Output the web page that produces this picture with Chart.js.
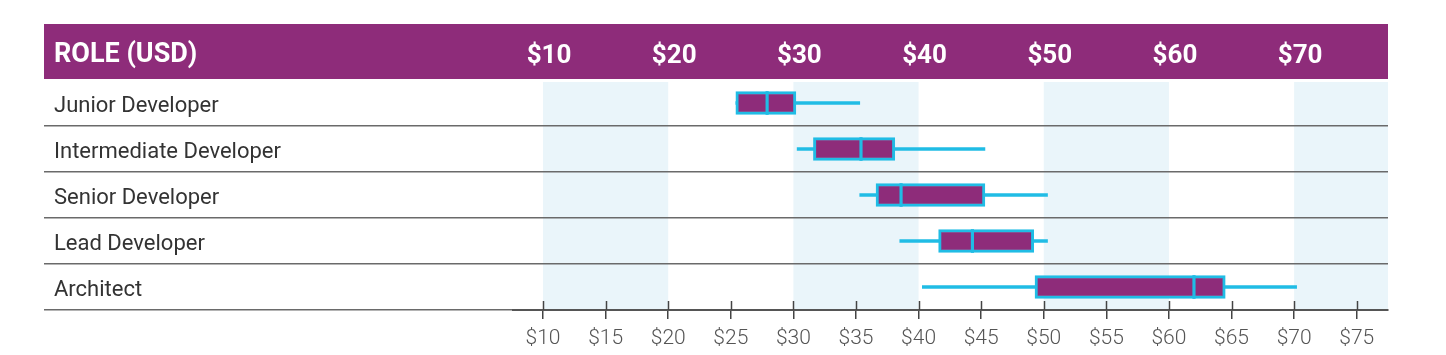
<!DOCTYPE html>
<html>
<head>
<meta charset="utf-8">
<script src="https://cdn.jsdelivr.net/npm/chart.js@4/dist/chart.umd.min.js"></script>
<style>
  html, body { margin: 0; padding: 0; background: #ffffff; }
  #wrap { width: 1446px; height: 355px; position: relative; }
</style>
</head>
<body>
<div id="wrap"><canvas id="c" width="1446" height="355"></canvas></div>
<script>
// ---- data ----
const headerTitle = "ROLE (USD)";
const roles = ["Junior Developer", "Intermediate Developer", "Senior Developer", "Lead Developer", "Architect"];
const mins    = [25.4, 30.3, 35.3, 38.5, 40.3];
const q1s     = [25.4, 31.6, 36.6, 41.6, 49.3];
const medians = [27.9, 35.4, 38.6, 44.3, 62.0];
const q3s     = [30.2, 38.1, 45.3, 49.2, 64.5];
const maxs    = [35.3, 45.3, 50.3, 50.3, 70.2];
const headerTickValues = [10, 20, 30, 40, 50, 60, 70];
const headerTickLabels = ["$10", "$20", "$30", "$40", "$50", "$60", "$70"];
const bottomTickValues = [10, 15, 20, 25, 30, 35, 40, 45, 50, 55, 60, 65, 70, 75];
const bottomTickLabels = ["$10", "$15", "$20", "$25", "$30", "$35", "$40", "$45", "$50", "$55", "$60", "$65", "$70", "$75"];
const bandStarts = [10, 30, 50, 70];
const bandEnds   = [20, 40, 60, 77.5];
const axisMin = 7.6, axisMax = 77.5;

// ---- styles ----
const PURPLE = '#8E2C7A';
const CYAN = '#20BCE5';
const BAND = '#EAF5FA';
const MEDIAN_HALF = 0.1;

const decoPlugin = {
  id: 'deco',
  beforeDraw(chart) {
    const { ctx, chartArea: a, scales } = chart;
    const x = scales.x, top = scales.xTop;
    ctx.save();
    ctx.fillStyle = BAND;
    bandStarts.forEach((s, i) => {
      const x1 = x.getPixelForValue(s);
      const x2 = x.getPixelForValue(Math.min(bandEnds[i], x.max));
      ctx.fillRect(x1, a.top + 2, x2 - x1, a.bottom - a.top - 2);
    });
    ctx.fillStyle = PURPLE;
    ctx.fillRect(44, top.top, a.right - 44, top.bottom - top.top - 1);
    ctx.fillStyle = '#ffffff';
    ctx.font = 'bold 27px Roboto';
    ctx.textBaseline = 'middle';
    ctx.textAlign = 'left';
    ctx.fillText(headerTitle, 54, (top.top + top.bottom) / 2 + 3);
    ctx.restore();
  },
  afterDraw(chart) {
    const { ctx, chartArea: a, scales } = chart;
    const x = scales.x;
    ctx.save();
    ctx.strokeStyle = '#444';
    ctx.lineWidth = 1.5;
    bottomTickValues.forEach(v => {
      const px = Math.round(x.getPixelForValue(v)) + 0.5;
      ctx.beginPath();
      ctx.moveTo(px, a.bottom - 9);
      ctx.lineTo(px, a.bottom);
      ctx.stroke();
    });
    ctx.restore();
  }
};

new Chart(document.getElementById('c'), {
  type: 'bar',
  data: {
    labels: roles,
    datasets: [
      {
        label: 'median',
        data: medians.map(m => [m - MEDIAN_HALF, m + MEDIAN_HALF]),
        backgroundColor: CYAN,
        borderWidth: 0,
        barThickness: 23,
        grouped: false
      },
      {
        label: 'box',
        data: q1s.map((q, i) => [q, q3s[i]]),
        backgroundColor: PURPLE,
        borderColor: CYAN,
        borderWidth: 3,
        borderSkipped: false,
        barThickness: 23,
        grouped: false
      },
      {
        label: 'whisker',
        data: mins.map((m, i) => [m, maxs[i]]),
        backgroundColor: CYAN,
        borderWidth: 0,
        barThickness: 3,
        grouped: false
      }
    ]
  },
  options: {
    indexAxis: 'y',
    responsive: false,
    animation: false,
    devicePixelRatio: 1,
    layout: { padding: { left: 54, right: 58, top: 24, bottom: 0 } },
    plugins: { legend: { display: false }, tooltip: { enabled: false } },
    scales: {
      x: {
        type: 'linear',
        position: 'bottom',
        min: axisMin,
        max: axisMax,
        afterBuildTicks: s => { s.ticks = bottomTickValues.map(v => ({ value: v })); },
        afterFit: s => { s.height = 45; },
        grid: { drawOnChartArea: false, tickLength: 9, color: '#444', lineWidth: 1.5 },
        border: { display: true, color: '#555', width: 2 },
        ticks: {
          padding: 7,
          color: '#555',
          font: { family: 'Roboto', size: 21, weight: '300' },
          callback: (v, i) => bottomTickLabels[i]
        }
      },
      xTop: {
        type: 'linear',
        position: 'top',
        min: axisMin,
        max: axisMax,
        afterBuildTicks: s => { s.ticks = headerTickValues.map(v => ({ value: v })); },
        afterFit: s => { s.height = 56; },
        grid: { display: false, drawTicks: false },
        border: { display: false },
        ticks: {
          padding: 8,
          labelOffset: 6,
          color: '#ffffff',
          font: { family: 'Roboto', size: 26, weight: 'bold' },
          callback: (v, i) => headerTickLabels[i]
        }
      },
      y: {
        type: 'category',
        position: 'left',
        afterFit: s => { s.width = 459; },
        grid: {
          offset: true,
          drawOnChartArea: true,
          tickLength: 469,
          lineWidth: 1.5,
          color: c => (c.index === 0 ? 'rgba(0,0,0,0)' : '#6a6a6a')
        },
        border: { display: false },
        ticks: {
          crossAlign: 'far',
          padding: 0,
          labelOffset: 3,
          color: '#333',
          font: { family: 'Roboto', size: 22 }
        }
      }
    }
  },
  plugins: [decoPlugin]
});
</script>
</body>
</html>
